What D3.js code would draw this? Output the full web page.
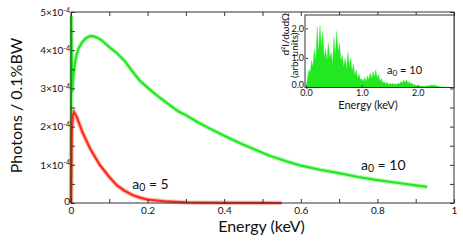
<!DOCTYPE html>
<meta charset="utf-8">
<script src="https://d3js.org/d3.v7.min.js"></script>
<style>
  body { margin: 0; background: #fff; }
  text { font-family: Lato, "DejaVu Sans", sans-serif; fill: #111; }
</style>
<body>
<div id="my_dataviz"></div>
<script>

// a0 = 10 spectrum (energy in keV, photons in units of 1e-4)
var energyA10 = [0, 0.001, 0.003, 0.006, 0.01, 0.015, 0.02, 0.03, 0.04, 0.05, 0.06, 0.07, 0.08, 0.1, 0.12, 0.14, 0.16, 0.18, 0.2, 0.22, 0.25, 0.28, 0.3, 0.33, 0.36, 0.4, 0.44, 0.48, 0.52, 0.56, 0.6, 0.65, 0.7, 0.75, 0.8, 0.85, 0.9, 0.93];
var photonsA10 = [0, 4.9, 2.9, 3.3, 3.65, 3.9, 4.05, 4.22, 4.32, 4.37, 4.36, 4.32, 4.26, 4.08, 3.92, 3.72, 3.45, 3.2, 3.02, 2.85, 2.62, 2.4, 2.3, 2.12, 1.96, 1.76, 1.57, 1.4, 1.23, 1.1, 0.98, 0.87, 0.78, 0.68, 0.6, 0.53, 0.46, 0.42];

// a0 = 5 spectrum
var energyA5 = [0, 0.002, 0.005, 0.008, 0.015, 0.03, 0.05, 0.075, 0.1, 0.12, 0.14, 0.16, 0.18, 0.2, 0.25, 0.3, 0.4, 0.5, 0.55];
var photonsA5 = [0, 1.9, 2.3, 2.38, 2.25, 1.85, 1.42, 1.0, 0.68, 0.46, 0.32, 0.21, 0.14, 0.09, 0.04, 0.015, 0.005, 0.002, 0];

// inset: d2I/dw dOmega (arb. units) for a0 = 10
var insetEnergy = [0, 0.025, 0.05, 0.075, 0.1, 0.125, 0.15, 0.175, 0.2, 0.225, 0.25, 0.275, 0.3, 0.325, 0.35, 0.375, 0.4, 0.425, 0.45, 0.475,
  0.5, 0.525, 0.55, 0.575, 0.6, 0.625, 0.65, 0.675, 0.7, 0.725, 0.75, 0.775, 0.8, 0.825, 0.85, 0.875, 0.9, 0.925, 0.95, 0.975,
  1.0, 1.025, 1.05, 1.075, 1.1, 1.125, 1.15, 1.175, 1.2, 1.225, 1.25, 1.275, 1.3, 1.325, 1.35, 1.375, 1.4, 1.425, 1.45, 1.475,
  1.5, 1.525, 1.55, 1.575, 1.6, 1.625, 1.65, 1.675, 1.7, 1.725, 1.75, 1.775, 1.8, 1.825, 1.85, 1.875, 1.9, 1.925, 1.95, 1.975,
  2.0, 2.025, 2.05, 2.075, 2.1, 2.125, 2.15, 2.175, 2.2, 2.225, 2.25, 2.275, 2.3, 2.325, 2.35, 2.375, 2.4, 2.425, 2.45, 2.5, 2.55, 2.6];
var insetValue = [0, 0.3, 0.6, 0.5, 0.9, 0.7, 1.3, 0.9, 2.05, 1.2, 2.1, 1.4, 1.9, 1.0, 1.3, 0.9, 1.5, 1.0, 1.2, 0.8,
  1.7, 1.1, 1.9, 1.2, 1.5, 0.9, 1.1, 0.7, 1.0, 0.6, 1.2, 0.7, 1.0, 0.55, 0.8, 0.4, 0.6, 0.3, 0.45, 0.25,
  0.3, 0.2, 0.35, 0.2, 0.4, 0.25, 0.5, 0.3, 0.55, 0.35, 0.6, 0.3, 0.45, 0.2, 0.3, 0.15, 0.2, 0.12, 0.18, 0.1,
  0.15, 0.1, 0.14, 0.1, 0.13, 0.1, 0.15, 0.12, 0.2, 0.15, 0.25, 0.18, 0.25, 0.15, 0.2, 0.12, 0.15, 0.08, 0.1, 0.06,
  0.08, 0.05, 0.06, 0.04, 0.05, 0.04, 0.06, 0.05, 0.08, 0.05, 0.1, 0.06, 0.1, 0.05, 0.06, 0.03, 0.03, 0.02, 0.02, 0.02, 0.01, 0];

// tick values
var xTicks = [0, 0.1, 0.2, 0.3, 0.4, 0.5, 0.6, 0.7, 0.8, 0.9, 1];
var xLabels = ["0", "", "0.2", "", "0.4", "", "0.6", "", "0.8", "", "1"];
var yTicks = [0, 0.5, 1, 1.5, 2, 2.5, 3, 3.5, 4, 4.5, 5];
var yLabels = ["0", "", "1", "", "2", "", "3", "", "4", "", "5"];
var insetXTicks = [0, 1, 2];
var insetYTicks = [0, 1, 2];

var green = "#22e822", red = "#ff2a1a";

var margin = { top: 12, right: 9, bottom: 42, left: 71 },
  width = 463 - margin.left - margin.right,
  height = 245 - margin.top - margin.bottom;

var svgRoot = d3.select("#my_dataviz").append("svg")
  .attr("width", 463).attr("height", 245);
var svg = svgRoot.append("g")
  .attr("transform", "translate(" + margin.left + "," + margin.top + ")");

var x = d3.scaleLinear().domain([0, 1]).range([0, width]);
var y = d3.scaleLinear().domain([0, 5]).range([height, 0]);

// curves (a soft halo mimics the noise band of the data)
var line = d3.line().x(function (d) { return x(d[0]); }).y(function (d) { return y(d[1]); });
var dA10 = d3.zip(energyA10, photonsA10);
var dA5 = d3.zip(energyA5, photonsA5);

[[dA10, green], [dA5, red]].forEach(function (s) {
  svg.append("path").datum(s[0]).attr("d", line)
    .attr("fill", "none").attr("stroke", s[1]).attr("stroke-width", 4.5).attr("opacity", 0.3);
  svg.append("path").datum(s[0]).attr("d", line)
    .attr("fill", "none").attr("stroke", s[1]).attr("stroke-width", 2.2);
});

// axes, ticks inward on all sides
function styleAxis(g, size) {
  g.select(".domain").remove();
  g.selectAll(".tick line").attr("stroke", "#333");
  g.selectAll(".tick text").style("font-size", (size || 10) + "px").attr("fill", "#111");
}
svg.append("g").attr("transform", "translate(0," + height + ")")
  .call(d3.axisBottom(x).tickValues(xTicks).tickSizeInner(-4).tickSizeOuter(0).tickPadding(4)
    .tickFormat(function (d, i) { return xLabels[i]; }))
  .call(styleAxis);
svg.append("g")
  .call(d3.axisTop(x).tickValues(xTicks).tickSizeInner(-4).tickSizeOuter(0).tickFormat(""))
  .call(styleAxis);
svg.append("g").attr("transform", "translate(" + width + ",0)")
  .call(d3.axisRight(y).tickValues(yTicks).tickSizeInner(-4).tickSizeOuter(0).tickFormat(""))
  .call(styleAxis);
var yAx = svg.append("g")
  .call(d3.axisLeft(y).tickValues(yTicks).tickSizeInner(-4).tickSizeOuter(0).tickPadding(1).tickFormat(""))
  .call(styleAxis);
yAx.selectAll(".tick").each(function (d, i) {
  var t = d3.select(this).select("text").text(null);
  if (!yLabels[i]) return;
  if (yLabels[i] === "0") { t.text("0").attr("dy", "0.1em"); return; }
  t.append("tspan").text(yLabels[i] + "×10");
  t.append("tspan").text("-4").style("font-size", "7px").attr("dy", "-0.45em");
});

svg.append("rect").attr("width", width).attr("height", height)
  .attr("fill", "none").attr("stroke", "#333").attr("stroke-width", 1);

// axis titles
svg.append("text").attr("x", width / 2 - 1).attr("y", height + 29)
  .attr("text-anchor", "middle").style("font-size", "16px").text("Energy (keV)");
svg.append("text").attr("transform", "translate(" + (-49) + "," + (height / 2 - 2) + ") rotate(-90)")
  .attr("text-anchor", "middle").style("font-size", "16px").text("Photons / 0.1%BW");

function subLabel(g, px, py, size, val) {
  var t = g.append("text").attr("x", px).attr("y", py).style("font-size", size + "px");
  t.append("tspan").text("a");
  t.append("tspan").text("0").style("font-size", (size * 0.75) + "px").attr("dy", "0.2em");
  t.append("tspan").text(" = " + val).attr("dy", "-0.15em");
}
subLabel(svg, x(0.16), y(0.36), 14, "5");
subLabel(svg, x(0.757), y(0.86), 14, "10");

// inset
var ix0 = 306 - margin.left, iy0 = 15 - margin.top, iw = width - ix0, ih = 72.5;
var inset = svg.append("g").attr("transform", "translate(" + ix0 + "," + iy0 + ")");
var ix = d3.scaleLinear().domain([0, 2.65]).range([0, iw]);
var iy = d3.scaleLinear().domain([0, 2.45]).range([ih, 0]);
inset.append("rect").attr("x", -1).attr("width", iw + 1).attr("height", ih).attr("fill", "#fff");
var area = d3.area().x(function (d) { return ix(d[0]); }).y0(ih).y1(function (d) { return iy(d[1]); });
inset.append("path").datum(d3.zip(insetEnergy, insetValue)).attr("d", area)
  .attr("fill", green).attr("stroke", green).attr("stroke-width", 0.6).attr("stroke-opacity", 0.5);
inset.append("g").attr("transform", "translate(0," + ih + ")")
  .call(d3.axisBottom(ix).tickValues(insetXTicks).tickSizeInner(-2).tickSizeOuter(0).tickPadding(2))
  .call(styleAxis, 9);
inset.append("g")
  .call(d3.axisLeft(iy).tickValues(insetYTicks).tickSizeInner(-2).tickSizeOuter(0).tickPadding(2))
  .call(styleAxis, 9)
  .selectAll(".tick text").filter(function (d) { return d === 0; }).attr("dy", "0.05em");
inset.append("rect").attr("x", -1).attr("width", iw + 1).attr("height", ih)
  .attr("fill", "none").attr("stroke", "#333").attr("stroke-width", 1);
inset.append("text").attr("x", iw / 2 - 12).attr("y", ih + 21)
  .attr("text-anchor", "middle").style("font-size", "11px").text("Energy (keV)");
inset.append("text").attr("transform", "translate(-17," + (ih / 2 - 17) + ") rotate(-90)")
  .attr("text-anchor", "middle").style("font-size", "10px").text("d²I/dωdΩ");
inset.append("text").attr("transform", "translate(-8," + (ih / 2 + 4) + ") rotate(-90)")
  .attr("text-anchor", "middle").style("font-size", "10px").text("(arb. units)");
subLabel(inset, ix(1.45), iy(0.45), 11, "10");

</script>
</body>
